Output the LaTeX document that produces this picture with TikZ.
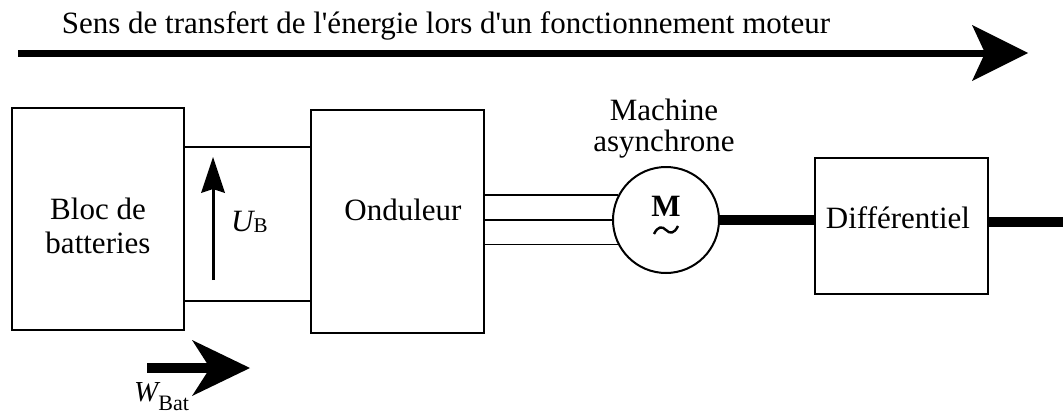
\documentclass[tikz,border=0pt]{standalone}
\usepackage{fontspec}
\setmainfont{Liberation Serif}
\usetikzlibrary{arrows.meta,calc}
\begin{document}
\begin{tikzpicture}[x=1pt,y=-1pt,
  box/.style={draw, line width=1.8pt, inner sep=0pt},
  wire/.style={line width=1.8pt},
  shaft/.style={line width=10pt},
  lbl/.style={inner sep=0pt, anchor=base, font=\fontsize{31}{34}\selectfont},
  bigarrow/.style={line width=7pt, -{Stealth[length=56pt,width=56pt,inset=13pt,line width=0pt]}},
  warrow/.style={line width=10pt, -{Stealth[length=58pt,width=56pt,inset=18pt,line width=0pt]}},
  uarrow/.style={line width=3pt, -{Stealth[length=36pt,width=24pt,inset=4pt,line width=0pt]}},
]
\useasboundingbox (0,0) rectangle (1063,415);

% title and flow arrow
\node[lbl] (title) at (446,33) {Sens de transfert de l\textquotesingle énergie lors d\textquotesingle un fonctionnement moteur};
\coordinate (t0) at (18,53);
\coordinate (t1) at (1028,53);
\draw[bigarrow] (t0) -- (t1);

% boxes
\node[box, minimum width=172pt, minimum height=222pt] (bat) at (98,219) {};
\node[box, minimum width=173pt, minimum height=223pt] (ond) at (397.5,221.5) {};
\node[box, minimum width=173pt, minimum height=136pt] (diff) at (901.5,226) {};
\node[draw, circle, line width=2pt, minimum size=106pt, inner sep=0pt] (mot) at (666,220) {};

% box texts
\node[lbl] (bat1) at (98,219) {Bloc de};
\node[lbl] (bat2) at (98,253) {batteries};
\node[lbl] (ondt) at (403,220) {Onduleur};
\node[lbl] (difft) at (898,228) {Différentiel};
\node[lbl] (mach1) at (664,120) {Machine};
\node[lbl] (mach2) at (664,151) {asynchrone};
\node[inner sep=0pt, anchor=base, font=\fontsize{31}{31}\selectfont\bfseries] (mM) at (666,216) {M};
\draw[line width=2.4pt] (654,234) .. controls (658,226) and (662,226) .. (666,230) .. controls (670,234) and (674,234) .. (678,226);

% DC link
\draw[wire] (bat.east |- 0,147) -- (ond.west |- 0,147);
\draw[wire] (bat.east |- 0,301) -- (ond.west |- 0,301);
\coordinate (u0) at (213,280);
\coordinate (u1) at (213,157);
\draw[uarrow] (u0) -- (u1);
\node[inner sep=0pt, anchor=base west] (ub) at (231,231) {\fontsize{31}{31}\selectfont\itshape U\upshape\raisebox{-1pt}{\fontsize{21}{21}\selectfont B}};

% three-phase wires
\draw[wire] (ond.east |- mot.152) -- (mot.152);
\draw[wire] (ond.east |- mot.west) -- (mot.west);
\draw[wire] (ond.east |- mot.207) -- (mot.207);

% shafts
\draw[shaft] (mot.east) -- (diff.west |- mot.east);
\coordinate (endr) at (1063,222);
\draw[shaft] (diff.east |- endr) -- (endr);

% battery energy arrow
\coordinate (w0) at (147,368);
\coordinate (w1) at (250,368);
\draw[warrow] (w0) -- (w1);
\node[inner sep=0pt, anchor=base west] (wb) at (134,401) {\fontsize{29}{29}\selectfont\itshape W\upshape\raisebox{-9pt}{\fontsize{22}{22}\selectfont Bat}};
\end{tikzpicture}
\end{document}
